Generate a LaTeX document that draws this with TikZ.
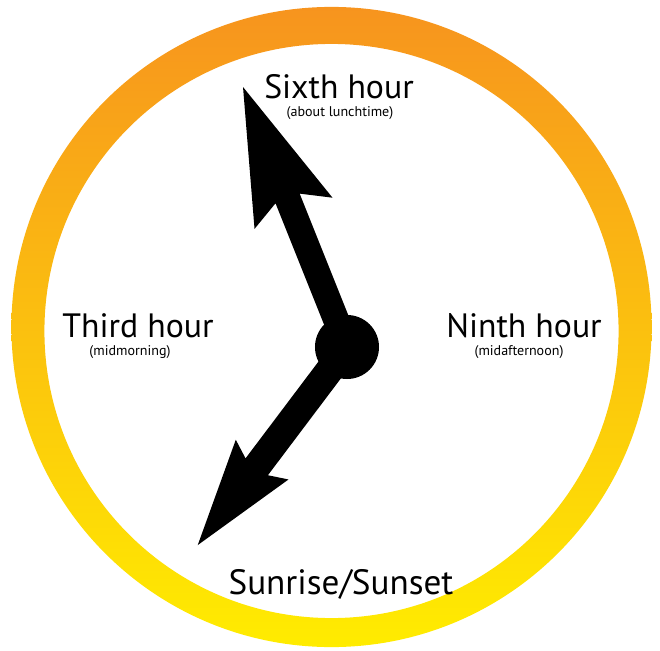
\documentclass[tikz,border=0pt]{standalone}
\usepackage{fontspec}
\setmainfont{PT Sans}
\usepackage{tikz}
\usetikzlibrary{positioning, calc}
\definecolor{ringtop}{RGB}{247,148,30}
\definecolor{ringmid}{RGB}{251,190,22}
\definecolor{ringbottom}{RGB}{255,236,0}
\tikzset{
  ringshade/.style={
    top color=ringtop, middle color=ringmid, bottom color=ringbottom,
    even odd rule
  },
  hubdot/.style={
    circle, fill=black, inner sep=0pt, minimum size=1.6cm
  },
  handshape/.style={fill=black},
  hourlabel/.style={
    font=\fontsize{24}{28}\selectfont, anchor=base, inner sep=0pt
  },
  notelabel/.style={
    font=\fontsize{10}{12}\selectfont, inner sep=0pt
  },
}
\begin{document}
\begin{tikzpicture}[x=0.025cm, y=-0.025cm]
  \useasboundingbox (0,0) rectangle (660,651);

  % -- Ring --------------------------------------------------------
  \shade[ringshade] (331.5,327) circle (8cm) (331.5,331) circle (7.175cm);

  % -- Hub and hands -----------------------------------------------
  \node[hubdot] (hub) at (347,347) {};
  % long hand (sixth hour)
  \begin{scope}[shift={(hub.center)}, rotate=111.8]
    \fill[handshape] (0,-13) -- (160,-13) -- (144,-42) -- (280,0)
      -- (144,42) -- (160,13) -- (0,13) -- cycle;
  \end{scope}
  % short hand (sunrise / sunset)
  \begin{scope}[shift={(hub.center)}, rotate=233]
    \fill[handshape] (0,-14) -- (150,-14) -- (141,-33) -- (248,0)
      -- (141,33) -- (150,14) -- (0,14) -- cycle;
  \end{scope}

  % -- Labels ------------------------------------------------------
  \node[hourlabel] (sixth) at (339,98) {Sixth hour};
  \node[notelabel] (sixthnote) at (340,113) {(about lunchtime)};

  \node[hourlabel] (third) at (138,337) {Third hour};
  \node[notelabel] (thirdnote) at (130,352) {(midmorning)};

  \node[hourlabel] (ninth) at (524,337) {Ninth hour};
  \node[notelabel] (ninthnote) at (519,352) {(midafternoon)};

  \node[hourlabel, font=\fontsize{25}{29}\selectfont] (sunrise) at (341,594)
    {Sunrise/Sunset};
\end{tikzpicture}
\end{document}
